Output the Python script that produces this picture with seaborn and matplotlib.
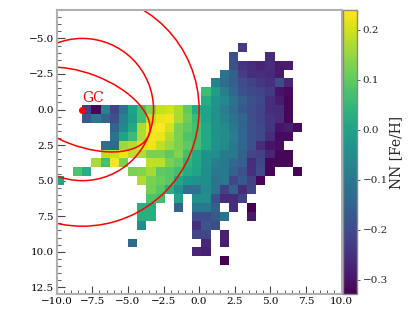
import numpy as np
import matplotlib
matplotlib.use("Agg")
import matplotlib.pyplot as plt
from matplotlib.patches import Circle, Ellipse
from matplotlib.transforms import Affine2D
import seaborn as sns

# ---------------- data ----------------
# bin grid (kpc): column k spans X0 + k*DX, row j spans Y0 + j*DY
BIN_X0, BIN_DX = -8.2, 0.643
BIN_Y0, BIN_DY = -0.31, 0.625
K_MIN, K_MAX = -3, 23
J_MIN, J_MAX = -7, 17

N = None
ROW_J = list(range(-7, 18))
ROW_FIRST_K = [17, 16, 16, 15, 14, 13, 13, 0, 0, 3, 3, 2, 2, 1, -1, -3, 7, 7, 6, 6, 6, 12, 5, 12, 15]
ROW_FEH = [
    [-0.23],
    [-0.19, N, N, N, -0.26],
    [-0.19, -0.245, -0.26, -0.273, -0.26, -0.29, -0.285],
    [-0.11, -0.16, -0.227, -0.256, -0.256, -0.267, -0.29],
    [-0.074, -0.13, -0.16, -0.2, -0.22, -0.24, -0.25, -0.2, -0.27],
    [0.06, -0.016, -0.09, -0.142, -0.19, -0.205, -0.216, -0.233, -0.30, -0.313],
    [0.023, -0.034, -0.062, -0.113, -0.16, -0.19, -0.205, -0.256, -0.284, -0.319],
    [-0.227, -0.319, -0.074, -0.216, -0.113, 0.0, 0.07, 0.13, 0.19, 0.2, 0.17, 0.1,
     0.02, 0.0, -0.045, -0.09, -0.13, -0.17, -0.2, -0.216, -0.256, -0.26, -0.319],
    [-0.176, -0.10, -0.148, -0.19, -0.074, -0.016, 0.069, 0.183, 0.223, 0.229, 0.166, 0.115,
     0.058, 0.0, -0.045, -0.074, -0.113, -0.142, -0.193, -0.216, -0.245, -0.26, -0.319],
    [-0.148, -0.062, 0.012, 0.17, 0.23, 0.24, 0.2, 0.126, 0.098, 0.069, 0.012, -0.045,
     -0.056, -0.10, -0.148, -0.19, -0.205, -0.245, -0.30, -0.284, -0.313],
    [-0.113, 0.0, 0.058, 0.172, 0.229, 0.223, 0.172, 0.126, 0.08, 0.069, 0.012, -0.034,
     -0.056, -0.09, -0.142, -0.19, -0.205, -0.26, -0.313, -0.313],
    [-0.13, -0.14, 0.155, 0.172, 0.21, 0.223, 0.183, 0.155, 0.126, 0.098, 0.069, 0.012,
     -0.045, -0.056, -0.10, -0.142, -0.19, -0.26, -0.30, -0.31],
    [0.183, 0.194, 0.223, 0.183, 0.172, 0.126, 0.126, 0.098, 0.13, 0.07, 0.01, -0.04,
     -0.05, -0.10, -0.10, -0.15, -0.21, -0.22, -0.27, -0.32, -0.32],
    [0.166, 0.07, 0.235, 0.126, N, N, 0.183, 0.183, 0.126, 0.10, 0.04, 0.01, -0.04,
     -0.09, -0.10, -0.14, -0.16, -0.26, -0.21, -0.32, -0.32, -0.32],
    [0.08, 0.023, N, N, N, N, 0.126, 0.135, 0.16, 0.098, 0.09, 0.07, 0.02, 0.0,
     -0.05, -0.10, -0.10, -0.15, -0.19, -0.25, -0.20, -0.32, N, N, -0.325],
    [0.0, N, N, N, N, N, N, N, N, 0.172, 0.126, 0.11, 0.09, 0.01, -0.03, -0.04,
     -0.05, -0.11, -0.10, -0.21, -0.17, -0.22, -0.32],
    [0.12, 0.09, 0.03, -0.045, -0.12, -0.12, -0.06, -0.11, -0.22, -0.16, -0.26, -0.21],
    [0.08, 0.07, N, 0.0, N, -0.05, -0.05, -0.19, -0.26, -0.26, -0.22],
    [0.03, 0.03, N, N, -0.15, N, -0.10, -0.10, -0.16, N, -0.25, N, -0.33],
    [0.03, 0.03, N, N, N, N, -0.2, -0.2, -0.17, -0.11, N, N, -0.29],
    [-0.05, N, N, N, N, N, -0.25, -0.18, -0.2],
    [-0.21, -0.21, N, -0.28],
    [-0.14, N, N, N, N, N, N, N, -0.27, N, -0.285],
    [-0.27, -0.28],
    [-0.33],
]

GC_X, GC_Y = -8.2, 0.0
CIRCLE_RADII = [5.0, 8.2]
BAR_A, BAR_B, BAR_ANGLE = 5.0, 2.55, 21.0

XTICKS = [-10.0, -7.5, -5.0, -2.5, 0.0, 2.5, 5.0, 7.5, 10.0]
YTICKS = [-5.0, -2.5, 0.0, 2.5, 5.0, 7.5, 10.0, 12.5]
CBAR_TICKS = [-0.3, -0.2, -0.1, 0.0, 0.1, 0.2]
VMIN, VMAX = -0.33, 0.24
XLIM, YLIM = (-10.0, 10.0), (13.0, -7.0)

# ---------------- grid ----------------
ncol = K_MAX - K_MIN + 1
nrow = J_MAX - J_MIN + 1
Z = np.full((nrow, ncol), np.nan)
for j, k0, vals in zip(ROW_J, ROW_FIRST_K, ROW_FEH):
    for i, v in enumerate(vals):
        if v is not None:
            Z[j - J_MIN, k0 - K_MIN + i] = v

XG0 = BIN_X0 + K_MIN * BIN_DX  # data x of heatmap index 0
YG0 = BIN_Y0 + J_MIN * BIN_DY

def fx(x):
    return (np.asarray(x, float) - XG0) / BIN_DX

def fy(y):
    return (np.asarray(y, float) - YG0) / BIN_DY

# ---------------- figure ----------------
sns.set_theme(style="white")
plt.rcParams["font.family"] = ["DejaVu Serif"]
plt.rcParams["axes.unicode_minus"] = True

fig = plt.figure(figsize=(4.15, 3.32), dpi=100)
ax = fig.add_axes([0.1366, 0.113, 0.6864, 0.857])
cax = fig.add_axes([0.8272, 0.113, 0.0337, 0.857])

sns.heatmap(Z, mask=np.isnan(Z), cmap="viridis", vmin=VMIN, vmax=VMAX,
            ax=ax, cbar_ax=cax, xticklabels=False, yticklabels=False,
            cbar_kws={"label": "NN [Fe/H]"})

to_idx = Affine2D().translate(-XG0, -YG0).scale(1 / BIN_DX, 1 / BIN_DY) + ax.transData

red = "#ff0000"
for r in CIRCLE_RADII:
    ax.add_patch(Circle((GC_X, GC_Y), r, transform=to_idx, fill=False,
                        ec=red, lw=1.1))
ax.add_patch(Ellipse((GC_X, GC_Y), 2 * BAR_A, 2 * BAR_B, angle=BAR_ANGLE,
                     transform=to_idx, fill=False, ec=red, lw=1.1))

sns.scatterplot(x=[float(fx(GC_X))], y=[float(fy(GC_Y))], ax=ax, color=red,
                s=26, linewidth=0, zorder=5, legend=False)
ax.text(GC_X, GC_Y - 0.5, "GC", transform=to_idx, color=red, fontsize=10,
        va="baseline", ha="left")

ax.set_xlim(fx(XLIM[0]), fx(XLIM[1]))
ax.set_ylim(fy(YLIM[0]), fy(YLIM[1]))

fmt = lambda v: f"{v:.1f}".replace("-", "\u2212")
ax.set_xticks(fx(XTICKS), [fmt(v) for v in XTICKS])
ax.set_yticks(fy(YTICKS), [fmt(v) for v in YTICKS])
ax.set_xticks(fx(np.arange(-10, 10.01, 0.5)), minor=True)
ax.set_yticks(fy(np.arange(-7, 13.01, 0.5)), minor=True)
ax.tick_params(which="both", direction="in", left=True, bottom=True, top=False,
               right=False, color="#444444", labelsize=7.5, labelcolor="black",
               labelrotation=0)
ax.tick_params(which="major", length=6, width=0.8, pad=2)
ax.tick_params(which="minor", length=3, width=0.6)

for s in ax.spines.values():
    s.set_visible(True)
    s.set_color("#b0b0b0")
    s.set_linewidth(1.5)

ax.set_xlabel("Galactic x (kpc)", fontsize=10, labelpad=1)
ax.set_ylabel("Galactic y (kpc)", fontsize=10, labelpad=2)

cb = ax.collections[0].colorbar
cb.set_ticks(CBAR_TICKS)
cb.ax.tick_params(labelsize=7.5, length=2.5, width=0.6, direction="out", pad=1.5,
                  color="#444444")
cb.outline.set_visible(True)
cb.outline.set_edgecolor("#888888")
cb.outline.set_linewidth(1.0)
cb.set_label("NN [Fe/H]", fontsize=10, labelpad=1)

fig.savefig("out.png", dpi=100)
